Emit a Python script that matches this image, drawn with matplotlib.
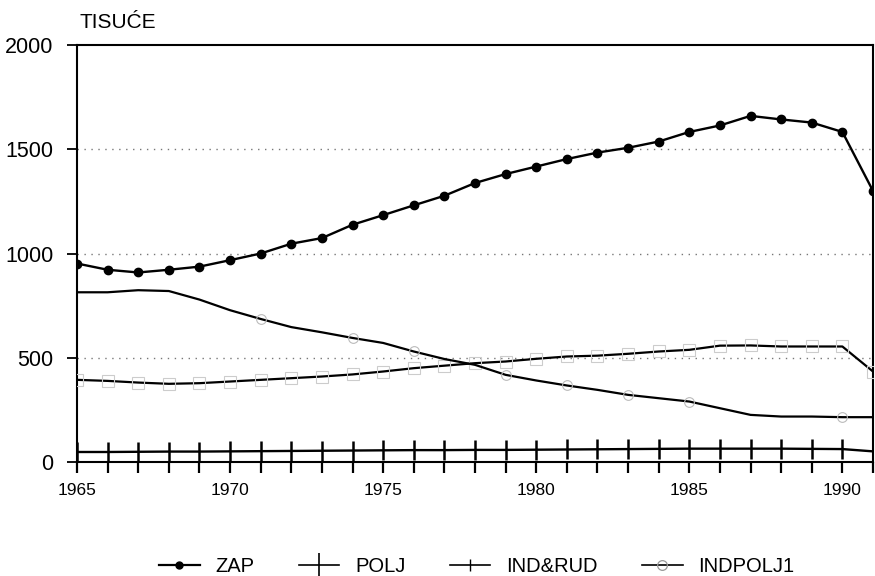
import matplotlib
matplotlib.use("Agg")
import matplotlib.pyplot as plt
from matplotlib.lines import Line2D

plt.rcParams['font.family'] = ['Liberation Sans', 'DejaVu Sans']

# godine
years = list(range(1965, 1992))

# zaposleni ukupno (tisuce)
zap = [952, 922, 909, 922, 937, 968, 1000, 1047, 1074, 1138, 1184, 1231, 1277,
       1338, 1381, 1417, 1453, 1484, 1507, 1537, 1583, 1614, 1660, 1643, 1628,
       1583, 1300]
# poljoprivreda
polj = [48, 48, 49, 50, 50, 51, 52, 53, 54, 55, 56, 57, 57,
        58, 58, 59, 60, 61, 62, 63, 64, 64, 64, 64, 63,
        62, 51]
# industrija i rudarstvo
ind_rud = [394, 389, 381, 375, 378, 386, 394, 402, 410, 420, 434, 450, 462,
           474, 482, 495, 506, 510, 519, 530, 538, 558, 559, 554, 554,
           554, 434]
# individualna poljoprivreda
indpolj1 = [814, 814, 824, 820, 779, 728, 686, 647, 622, 595, 571, 530, 494,
            466, 418, 391, 367, 346, 322, 306, 290, 258, 226, 218, 218,
            215, 215]

fig = plt.figure(figsize=(8.75, 5.76), dpi=100)
ax = fig.add_axes([77 / 875, 1 - 462 / 576, (873 - 77) / 875, (462 - 45) / 576])

# mreza
for yv in [500, 1000, 1500]:
    ax.axhline(yv, color='#777777', lw=1.0, ls=(0, (1, 4)), zorder=0)

ax.plot(years, zap, color='black', lw=1.7, marker='o', ms=6, zorder=4)
ax.plot(years, polj, color='black', lw=1.7, marker='|', ms=15, mew=1.8, zorder=3)
ax.plot(years, ind_rud, color='black', lw=1.6, marker='s', ms=8,
        mfc='none', mec='#cccccc', mew=0.8, zorder=3)
ax.plot(years, indpolj1, color='black', lw=1.6, marker='o', ms=7,
        mfc='none', mec='#bbbbbb', mew=0.8,
        markevery=[6, 9, 11, 14, 16, 18, 20, 25], zorder=3)

ax.set_xlim(1965, 1991)
ax.set_ylim(0, 2000)
ax.set_yticks([0, 500, 1000, 1500, 2000])
ax.set_xticks(list(range(1965, 1991, 5)))
ax.set_xticks(years, minor=True)

ax.tick_params(axis='y', direction='out', length=7, width=1.3, pad=10,
               labelsize=15.5)
ax.tick_params(axis='x', which='both', direction='out', length=8, width=1.6,
               pad=7, labelsize=12.5)
for s in ax.spines.values():
    s.set_linewidth(1.5)

fig.text(79 / 875, 1 - 22 / 576, 'TISUĆE', ha='left', va='center', fontsize=15)

handles = [
    Line2D([], [], color='black', lw=1.6, marker='o', ms=5),
    Line2D([], [], color='black', lw=1.2, marker='|', ms=18, mew=1.2),
    Line2D([], [], color='black', lw=1.2, marker='|', ms=8, mew=1.0),
    Line2D([], [], color='black', lw=1.2, marker='o', ms=7, mfc='none',
           mec='#999999', mew=0.9),
]
labels = ['ZAP', 'POLJ', 'IND&RUD', 'INDPOLJ1']
fig.legend(handles, labels, loc='center', bbox_to_anchor=(477 / 875, 1 - 567 / 576),
           ncol=4, frameon=False, fontsize=14.5, handlelength=2.0,
           handletextpad=0.8, columnspacing=2.2)

fig.savefig('out.png', dpi=100)
